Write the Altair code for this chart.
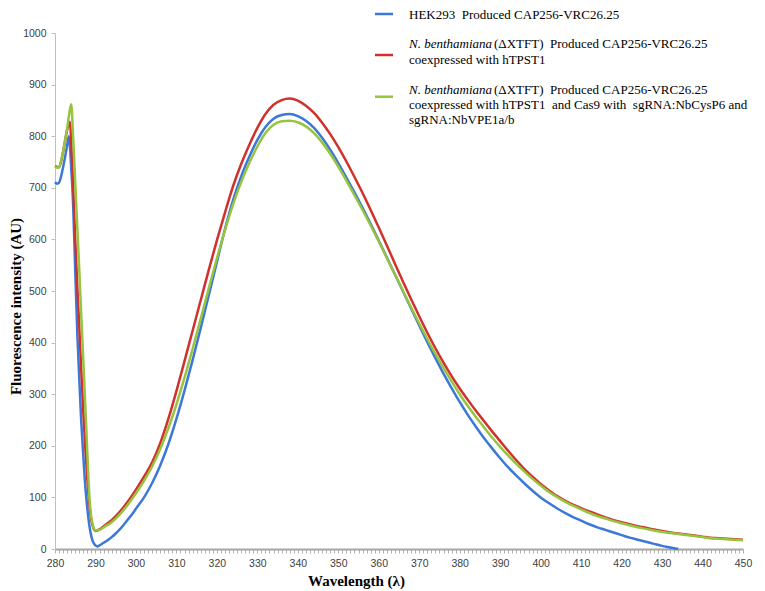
import altair as alt
import pandas as pd

# ---------------- data ----------------
SERIES = ["HEK293", "NbTPST1", "NbTPST1Cas9"]
COLORS = ["#3C78D8", "#D0312D", "#96C43E"]

# fine sampling of the early (280-299 nm) region
blue_head_nm = [280, 280.5, 281, 281.5, 282, 282.5, 283, 283.4, 284, 284.5, 285, 285.5,
                286, 286.5, 287, 287.5, 288, 288.5, 289, 289.5, 290, 290.5,
                291, 292, 293, 294, 295, 296, 297, 298, 299]
blue_head_val = [711, 708, 710, 722, 740, 760, 782, 800, 740, 663, 540, 420,
                 330, 245, 180, 120, 78, 45, 24, 12, 7, 5,
                 7, 12, 17, 23, 30, 38, 47, 57, 67]

red_head_nm = [280, 281, 282, 283, 283.7, 284, 284.5, 285, 285.5, 286, 286.5, 287,
               287.5, 288, 288.5, 289, 289.5, 290, 291, 292, 294, 296, 298]
red_head_val = [742, 740, 770, 812, 828, 790, 700, 600, 510, 430, 345, 265,
                195, 135, 85, 55, 40, 35, 38, 44, 56, 72, 92]

green_head_nm = [280, 280.5, 281, 281.5, 282, 282.5, 283, 283.5, 284, 284.5, 285, 285.5,
                 286, 286.5, 287, 287.5, 288, 288.5, 289, 289.5, 290, 291, 292, 294, 296, 298]
green_head_val = [742, 739, 740, 752, 770, 792, 815, 843, 862, 795, 710, 625,
                  540, 450, 365, 275, 185, 100, 60, 42, 36, 37, 42, 52, 67, 86]

# 2 nm sampling from 300 nm on
grid_nm = [300, 302, 304, 306, 308, 310, 312, 314, 316, 318, 320, 322, 324, 326, 328,
           330, 332, 334, 336, 338, 340, 342, 344, 346, 348, 350, 352, 354, 356, 358,
           360, 362, 364, 366, 368, 370, 372, 374, 376, 378, 380, 382, 384, 386, 388,
           390, 392, 394, 396, 398, 400, 402, 404, 406, 408, 410, 412, 414, 416, 418,
           420, 422, 424, 426, 428, 430, 432, 434, 436, 438, 440, 442, 444, 446, 448, 450]

blue_grid_val = [78, 100, 128, 162, 203, 252, 307, 366, 428, 492, 556, 620, 676, 722, 760,
                 793, 818, 834, 841, 843, 839, 830, 816, 797, 774, 748, 720, 691, 661, 630,
                 598, 565, 532, 499, 466, 433, 401, 370, 340, 312, 285, 260, 237, 215, 195,
                 176, 158, 142, 127, 113, 100, 89, 79, 70, 62, 55, 48, 42, 37, 32,
                 27, 22, 18, 14, 10, 6, 3, 0]

red_grid_val = [115, 140, 168, 205, 252, 306, 364, 423, 482, 541, 598, 652, 703, 746, 783,
                816, 843, 861, 870, 873, 869, 859, 845, 826, 804, 779, 751, 721, 690, 657,
                623, 588, 553, 518, 484, 451, 419, 389, 361, 335, 311, 289, 268, 248, 228,
                209, 190, 172, 155, 140, 126, 114, 103, 94, 86, 79, 73, 67, 61, 56,
                52, 48, 44, 41, 38, 35, 32, 30, 28, 26, 24, 22, 21, 20, 19, 18]

green_grid_val = [108, 132, 160, 194, 234, 280, 332, 388, 446, 505, 563, 618, 668, 711, 748,
                  780, 806, 822, 829, 830, 827, 819, 806, 788, 766, 741, 714, 686, 657, 627,
                  596, 564, 532, 500, 468, 437, 407, 378, 351, 325, 300, 277, 256, 236, 216,
                  198, 181, 165, 150, 136, 123, 111, 101, 92, 84, 77, 70, 64, 59, 54,
                  50, 46, 42, 39, 36, 33, 31, 29, 27, 25, 23, 21, 20, 19, 18, 17]

LEGEND_HEK = "HEK293\u00a0 Produced CAP256-VRC26.25"
LEGEND_ITALIC = "N. benthamiana"
LEGEND_REG = "(\u0394XTFT)\u00a0 Produced CAP256-VRC26.25"
LEGEND_RED_2 = "coexpressed with hTPST1"
LEGEND_GREEN_2 = "coexpressed with hTPST1\u00a0 and Cas9 with\u00a0 sgRNA:NbCysP6 and"
LEGEND_GREEN_3 = "sgRNA:NbVPE1a/b"

X_TITLE = "Wavelength (\u03bb)"
Y_TITLE = "Fluorescence intensity (AU)"

# ---------------- table ----------------
rows = []
for name, nms, vals in [
    (SERIES[0], blue_head_nm + grid_nm[:len(blue_grid_val)], blue_head_val + blue_grid_val),
    (SERIES[1], red_head_nm + grid_nm, red_head_val + red_grid_val),
    (SERIES[2], green_head_nm + grid_nm, green_head_val + green_grid_val),
]:
    for n, v in zip(nms, vals):
        rows.append({"nm": n, "value": v, "series": name})
df = pd.DataFrame(rows)

SERIF = "Liberation Serif"
SANS = "Liberation Sans"

x_enc = alt.X(
    "nm:Q",
    scale=alt.Scale(domain=[280, 450], nice=False, zero=False),
    axis=alt.Axis(
        values=list(range(280, 451)),
        labelExpr="datum.value % 10 == 0 ? datum.label : ''",
        labelOverlap=False, labelFlush=False,
        grid=False, tickSize=4, tickWidth=1, tickColor="#b0b0b0",
        domainColor="#a6a6a6", domainWidth=2,
        labelFont=SANS, labelFontSize=10.5, labelColor="#404040", labelPadding=5,
        title=X_TITLE, titleFont=SERIF, titleFontSize=15, titleFontWeight="bold",
        titleColor="black", titleX=301, titleY=36, titleBaseline="alphabetic",
        titleAlign="center",
    ),
)
y_enc = alt.Y(
    "value:Q",
    scale=alt.Scale(domain=[0, 1000], nice=False),
    axis=alt.Axis(
        values=list(range(0, 1001, 100)), format="d",
        labelFlush=False, labelOverlap=False,
        grid=False, tickSize=4, tickColor="#bfbfbf", domainColor="#bfbfbf",
        labelFont=SANS, labelFontSize=10.5, labelColor="#404040", labelPadding=5,
        title=Y_TITLE, titleFont=SERIF, titleFontSize=15, titleFontWeight="bold",
        titleColor="black", titleX=-35, titleY=273, titleBaseline="alphabetic",
        titleAlign="center", titleAngle=270,
    ),
)

base = alt.Chart(df)
lines = []
for name, col in zip(SERIES, COLORS):
    lines.append(
        base.transform_filter(alt.datum.series == name)
        .mark_line(color=col, strokeWidth=2.5, interpolate="monotone")
        .encode(x=x_enc, y=y_enc)
    )

one = pd.DataFrame({"k": [0]})


def sym(color, y):
    return alt.Chart(one).mark_rule(color=color, strokeWidth=2.5).encode(
        x=alt.value(320), x2=alt.value(338), y=alt.value(y)
    )


def txt(t, x, y, italic=False):
    return alt.Chart(pd.DataFrame({"t": [t]})).mark_text(
        font=SERIF, fontSize=13, fontStyle="italic" if italic else "normal",
        align="left", baseline="alphabetic", color="black",
    ).encode(text="t:N", x=alt.value(x), y=alt.value(y))


legend = [
    sym(COLORS[0], -19), txt(LEGEND_HEK, 354, -14.5),
    sym(COLORS[1], 22), txt(LEGEND_ITALIC, 354, 15, True), txt(LEGEND_REG, 439, 15),
    txt(LEGEND_RED_2, 354, 30.5),
    sym(COLORS[2], 63.7), txt(LEGEND_ITALIC, 354, 60.5, True), txt(LEGEND_REG, 439, 60.5),
    txt(LEGEND_GREEN_2, 354, 75.5), txt(LEGEND_GREEN_3, 354, 90.5),
]

chart = alt.layer(*lines, *legend).properties(
    width=688, height=516,
    autosize=alt.AutoSizeParams(type="none"),
    padding={"left": 47, "top": 25, "right": 14, "bottom": 40},
).configure_view(stroke=None)

chart.save("out.html", embed_options={"renderer": "svg", "actions": False})
